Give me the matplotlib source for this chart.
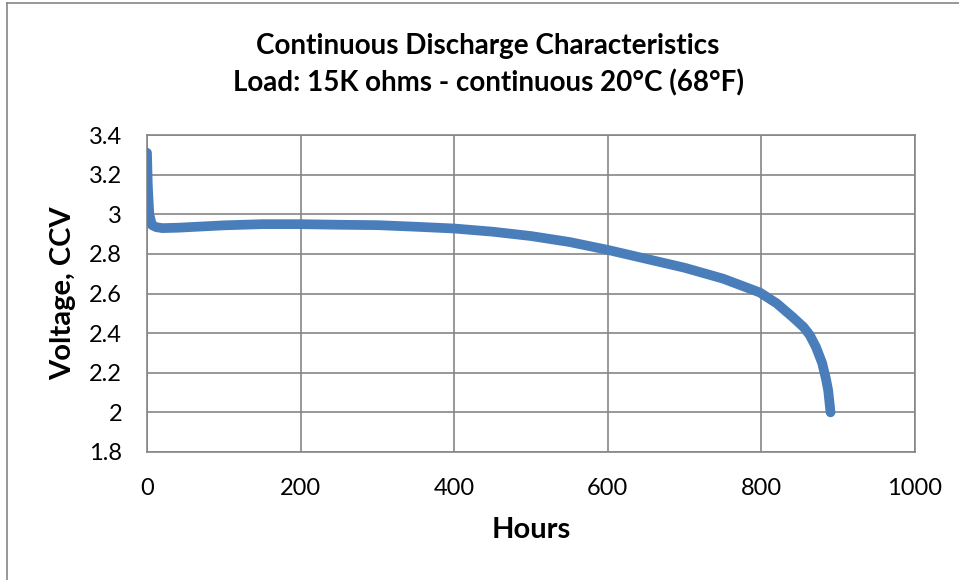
import matplotlib.pyplot as plt
from matplotlib.lines import Line2D

# values
hours = [0, 1, 3, 6.5, 12, 20, 40, 70, 100, 150, 200, 250, 300, 350, 400,
         450, 500, 550, 600, 650, 700, 750, 798, 820, 841, 855, 863, 871,
         879, 884, 887, 890]
voltage = [3.31, 3.15, 3.0, 2.945, 2.935, 2.93, 2.932, 2.938, 2.944, 2.95,
           2.95, 2.947, 2.945, 2.937, 2.928, 2.912, 2.89, 2.86, 2.82, 2.775,
           2.73, 2.675, 2.605, 2.55, 2.48, 2.43, 2.39, 2.33, 2.25, 2.17,
           2.11, 2.0]

x_ticks = [0, 200, 400, 600, 800, 1000]
y_ticks = [1.8, 2, 2.2, 2.4, 2.6, 2.8, 3, 3.2, 3.4]
y_labels = ["1.8", "2", "2.2", "2.4", "2.6", "2.8", "3", "3.2", "3.4"]

plt.rcParams['font.family'] = ['Lato', 'DejaVu Sans']

fig = plt.figure(figsize=(9.59, 5.8), dpi=100)
ax = fig.add_axes([147 / 959, 1 - 452 / 580, 768 / 959, 317 / 580])

ax.plot(hours, voltage, color="#4A7EBB", linewidth=7,
        solid_capstyle="round", solid_joinstyle="round", zorder=3)

ax.set_xlim(0, 1000)
ax.set_ylim(1.8, 3.4)
ax.set_xticks(x_ticks)
ax.set_yticks(y_ticks)
ax.set_yticklabels(y_labels)
ax.tick_params(labelsize=17, length=0)
ax.tick_params(axis="x", pad=19)
ax.tick_params(axis="y", pad=18)
ax.grid(True, color="#868686", linewidth=1.2)
for s in ax.spines.values():
    s.set_color("#868686")
    s.set_linewidth(1.2)

ax.set_xlabel("Hours", fontsize=21, fontweight="bold", labelpad=13)
ax.set_ylabel("Voltage, CCV", fontsize=21, fontweight="bold", labelpad=9)

# two-line bold title, centred over the chart area
fig.text(488 / 959, 1 - 46 / 580, "Continuous Discharge Characteristics",
         ha="center", va="center", fontsize=20, fontweight="bold")
fig.text(488 / 959, 1 - 83 / 580, "Load: 15K ohms - continuous 20°C (68°F)",
         ha="center", va="center", fontsize=20, fontweight="bold")

# chart border (left and top edges visible in the reference)
fig.add_artist(Line2D([7 / 959, 7 / 959], [0, 1 - 3 / 580],
                      transform=fig.transFigure, color="#868686", linewidth=1.2))
fig.add_artist(Line2D([7 / 959, 1], [1 - 3 / 580, 1 - 3 / 580],
                      transform=fig.transFigure, color="#868686", linewidth=1.2))

fig.savefig("out.png", dpi=100)
plt.close(fig)
